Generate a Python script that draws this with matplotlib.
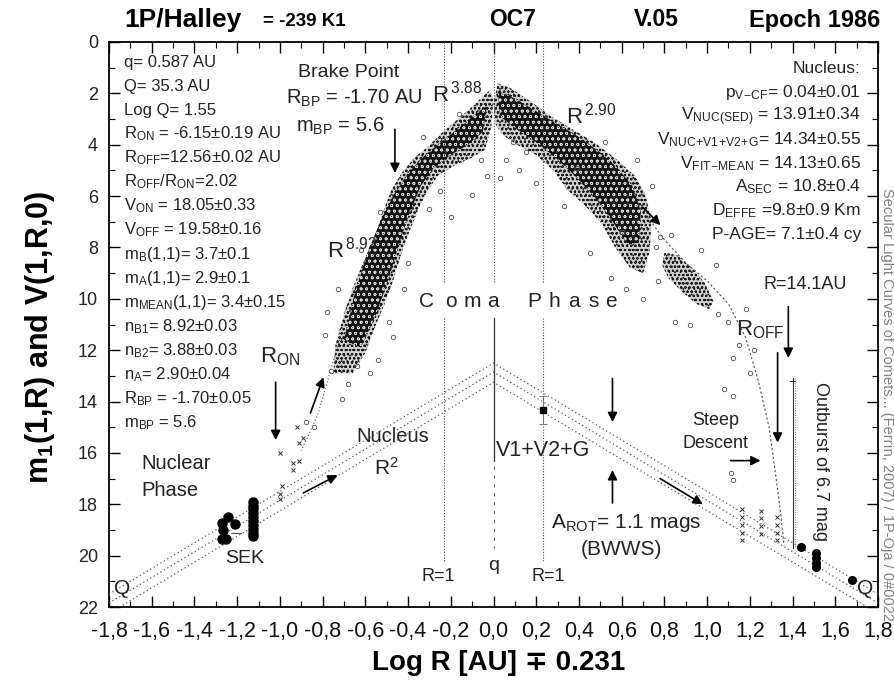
import numpy as np
import matplotlib
matplotlib.use("Agg")
import matplotlib.pyplot as plt
from matplotlib.ticker import MultipleLocator, FuncFormatter

plt.rcParams['font.family'] = ['Liberation Sans', 'DejaVu Sans']
plt.rcParams['mathtext.fontset'] = 'custom'
plt.rcParams['mathtext.rm'] = 'Liberation Sans'
plt.rcParams['mathtext.it'] = 'Liberation Sans'
plt.rcParams['mathtext.bf'] = 'Liberation Sans:bold'
plt.rcParams['axes.unicode_minus'] = False
plt.rcParams['hatch.linewidth'] = 0.5

# ---------------- data ----------------
LOG_Q = 0.231          # -log10(q), q = 0.587 AU

# characteristic heliocentric distances (AU); negative = before perihelion
r_brake = -1.70
r_on = -6.15
r_off = 12.56
r_outburst = 14.1
r_unit = [-1.0, 1.0]

# pre-perihelion coma cloud (outline and dense core)
left_env_x = [-0.75, -0.74, -0.70, -0.66, -0.61, -0.56, -0.52, -0.48, -0.43, -0.37, -0.31, -0.25,
              -0.18, -0.11, -0.06, -0.02, 0.00, -0.01, -0.04, -0.10, -0.18, -0.26, -0.31, -0.35,
              -0.39, -0.43, -0.47, -0.51, -0.55, -0.60, -0.66]
left_env_y = [12.9, 11.8, 10.6, 9.6, 8.6, 7.7, 6.7, 5.8, 5.1, 4.5, 4.1, 3.6,
              3.1, 2.6, 2.2, 1.9, 2.2, 3.3, 4.2, 4.5, 4.8, 5.2, 5.8, 6.5,
              7.3, 8.2, 9.3, 10.2, 11.0, 12.1, 12.9]
left_core_x = [-0.70, -0.65, -0.59, -0.53, -0.47, -0.40, -0.32, -0.23, -0.14, -0.07, -0.03,
               -0.05, -0.12, -0.20, -0.28, -0.34, -0.39, -0.44, -0.49, -0.55, -0.62]
left_core_y = [11.6, 9.8, 8.2, 7.0, 6.0, 5.1, 4.4, 3.8, 3.2, 2.7, 2.5,
               3.5, 4.0, 4.4, 4.9, 5.6, 6.6, 7.8, 9.2, 10.6, 11.9]

# post-perihelion coma cloud
right_env_x = [0.00, 0.02, 0.08, 0.17, 0.27, 0.37, 0.47, 0.58, 0.66, 0.71, 0.74, 0.73, 0.70,
               0.64, 0.57, 0.50, 0.42, 0.35, 0.28, 0.20, 0.11, 0.04, 0.01]
right_env_y = [2.4, 1.6, 1.8, 2.3, 2.9, 3.4, 3.9, 4.6, 5.2, 5.9, 7.0, 8.2, 9.0,
               8.8, 8.0, 7.0, 6.3, 5.8, 5.0, 4.4, 4.0, 3.6, 3.2]
right_core_x = [0.02, 0.10, 0.20, 0.30, 0.40, 0.50, 0.58, 0.65, 0.69, 0.68, 0.63, 0.55, 0.47,
                0.38, 0.29, 0.20, 0.11, 0.03]
right_core_y = [1.9, 2.2, 2.7, 3.2, 3.7, 4.3, 4.9, 5.6, 6.6, 7.8, 7.9, 6.9, 6.0,
                5.2, 4.5, 3.9, 3.4, 2.9]
far_cluster_x = [0.80, 0.86, 0.93, 0.99, 1.03, 1.01, 0.95, 0.88, 0.82, 0.79]
far_cluster_y = [8.2, 8.3, 8.8, 9.4, 10.1, 10.4, 10.2, 9.7, 9.2, 8.7]

# isolated coma observations
scatter_x = [-0.73, -0.42, -0.54, -0.10, -0.06, -0.78, -0.76, -0.68, -0.64, -0.47, -0.30, -0.25,
             -0.88, -0.84, -0.20, 0.06, 0.45, 0.12, 0.20, 0.55, 0.62, 0.70, 0.76, 0.78,
             1.05, 1.10, 1.15, 1.12, 1.20, 1.08, 1.12, 1.11, 1.12, 1.18, 1.22, 0.85, 0.92,
             -0.79, -0.71, -0.62, -0.58, -0.53, -0.49, -0.40, -0.33, -0.16, -0.03, 0.03,
             0.09, 0.15, 0.33, 0.39, 0.52, 0.60, 0.67, 0.74, 0.77, 0.83, 0.97, 1.04]
scatter_y = [9.6, 9.6, 12.4, 5.96, 4.6, 10.5, 12.8, 13.3, 12.6, 11.5, 6.5, 5.8,
             14.8, 15.0, 6.8, 4.6, 8.2, 5.0, 5.5, 9.2, 9.6, 10.0, 8.0, 7.6,
             10.6, 10.9, 11.8, 12.3, 12.9, 13.5, 13.8, 16.8, 17.05, 10.4, 12.0, 10.9, 11.0,
             11.4, 13.9, 8.1, 12.9, 6.6, 10.9, 8.6, 3.7, 2.8, 5.2, 5.3,
             3.9, 4.3, 6.4, 4.9, 3.9, 7.4, 4.6, 5.6, 9.3, 7.5, 8.1, 8.7]

# early/late faint detections (crosses)
cross_x = [-1.00, -0.94, -0.94, -0.91, -0.99, -1.00, -1.00, -0.89, -0.91, -0.92,
           1.165, 1.165, 1.165, 1.165, 1.165, 1.25, 1.25, 1.25, 1.25,
           1.325, 1.325, 1.325, 1.325]
cross_y = [16.0, 16.4, 16.67, 16.3, 17.3, 17.6, 17.8, 15.4, 15.6, 15.0,
           18.2, 18.5, 18.8, 19.1, 19.4, 18.25, 18.55, 18.85, 19.15,
           18.5, 18.8, 19.1, 19.4]

# nucleus photometry (SEK and far post-perihelion)
sek_x = [-1.27, -1.245, -1.264, -1.25, -1.27, -1.21,
         -1.128, -1.128, -1.128, -1.128, -1.128, -1.128, -1.128, -1.128, -1.128, -1.128]
sek_y = [18.73, 18.5, 19.0, 19.35, 19.35, 18.77,
         17.9, 18.05, 18.2, 18.35, 18.5, 18.65, 18.8, 18.95, 19.1, 19.25]
far_dots_x = [1.44, 1.51, 1.51, 1.51, 1.51, 1.68]
far_dots_y = [19.66, 19.9, 20.1, 20.3, 20.45, 20.95]

# nucleus magnitude at R = 1 AU with error
v_nuc = 14.34
v_nuc_err = 0.55

# nucleus lines V(1,R,0)
nuc_x = [-1.8, 0.0, 1.8]
nuc_upper_y = [21.5, 12.5, 21.5]
nuc_mid_y = [21.85, 12.85, 21.85]
nuc_lower_y = [22.25, 13.25, 22.25]

# secular fits continued outside the dense data
fit_left_x = [-0.72, -0.77, -0.82, -0.86, -0.90]
fit_left_y = [11.6, 13.0, 14.45, 15.2, 15.9]
fit_right_x = [0.72, 0.80, 0.90, 1.00, 1.10, 1.18, 1.24, 1.29, 1.32, 1.345, 1.36]
fit_right_y = [6.8, 7.7, 8.6, 9.3, 10.2, 11.5, 13.2, 15.0, 16.8, 18.4, 19.6]

# tick values
x_ticks = np.round(np.arange(-1.8, 1.81, 0.2), 1)
y_ticks = np.arange(0, 23, 2)


def xpos(r):
    return np.sign(r) * (np.log10(abs(r)) + LOG_Q)


# ---------------- figure ----------------
fig = plt.figure(figsize=(8.95, 6.8), dpi=100)
ax = fig.add_axes([109 / 895, 1 - 607 / 680, 769 / 895, 565 / 680])
ax.set_xlim(-1.8, 1.8)
ax.set_ylim(22, 0)

# coma clouds
for px, py in [(left_env_x, left_env_y), (right_env_x, right_env_y), (far_cluster_x, far_cluster_y)]:
    ax.fill(px, py, facecolor='0.82', edgecolor='0.1', hatch='oooo...', lw=0, zorder=2)
for px, py in [(left_core_x, left_core_y), (right_core_x, right_core_y)]:
    ax.fill(px, py, facecolor='0.08', edgecolor='0.85', hatch='ooo', lw=0, zorder=3)

ax.plot(scatter_x, scatter_y, 'o', ms=3.2, mfc='none', mec='0.3', mew=0.6, zorder=4)
ax.plot(cross_x, cross_y, 'x', ms=3.5, color='0.2', mew=0.7, zorder=4)
ax.plot(sek_x, sek_y, 'o', ms=6.5, color='black', zorder=5)
ax.plot([-1.23, -1.18], [19.1, 19.1], color='0.3', lw=0.8, zorder=5)
ax.plot(far_dots_x, far_dots_y, 'o', ms=5.5, color='black', zorder=5)

# nucleus lines
for ny in (nuc_upper_y, nuc_mid_y, nuc_lower_y):
    ax.plot(nuc_x, ny, color='0.35', lw=0.9, ls=(0, (1, 2.2)), zorder=3)

ax.errorbar([xpos(1.0)], [v_nuc], yerr=[v_nuc_err], fmt='s', ms=5, color='black',
            ecolor='0.4', elinewidth=0.6, capsize=3, capthick=0.6, zorder=6)

# fits
ax.plot(fit_left_x, fit_left_y, color='0.3', lw=0.8, ls=(0, (1, 2)), zorder=3)
ax.plot(fit_right_x, fit_right_y, color='0.3', lw=0.8, ls=(0, (2, 2)), zorder=3)

# vertical reference lines
for r in r_unit:
    xv = xpos(r)
    ax.plot([xv, xv], [0, 9.4], color='0.3', lw=0.8, ls=(0, (1, 1.5)), zorder=3)
    ax.plot([xv, xv], [10.75, 20.2], color='0.3', lw=0.8, ls=(0, (1, 1.5)), zorder=3)
ax.plot([0, 0], [0, 9.4], color='0.3', lw=0.8, ls=(0, (1, 1.5)), zorder=3)
ax.plot([0, 0], [10.75, 16.3], color='0.2', lw=0.9, zorder=3)
ax.plot([0, 0], [16.5, 19.7], color='0.4', lw=0.8, ls=(0, (3, 5)), zorder=3)

x_ob = xpos(r_outburst) + 0.02
ax.plot([x_ob, x_ob], [13.1, 19.7], color='0.2', lw=0.8, zorder=3)
ax.plot([x_ob + 0.012, x_ob + 0.012], [13.1, 19.7], color='0.4', lw=0.7, ls=(0, (1, 1.5)), zorder=3)
ax.plot([x_ob - 0.012, x_ob + 0.012], [13.2, 13.2], color='0.2', lw=0.8, zorder=3)

# arrows
arrow_kw = dict(arrowstyle='-|>', color='black', lw=1.2, mutation_scale=14, shrinkA=0, shrinkB=0)


def arrow(x0, y0, x1, y1):
    ax.annotate('', xy=(x1, y1), xytext=(x0, y0), arrowprops=arrow_kw, zorder=7)


xb = xpos(r_brake)
arrow(xb, 3.4, xb, 5.1)
arrow(xpos(r_on), 13.25, xpos(r_on), 15.5)
arrow(-0.857, 14.45, -0.796, 13.05)
arrow(-0.89, 17.56, -0.73, 16.86)
arrow(0.698, 6.43, 0.782, 7.13)
arrow(0.78, 17.0, 0.98, 18.0)
arrow(0.557, 13.1, 0.557, 14.8)
arrow(0.557, 17.95, 0.557, 16.67)
arrow(xpos(r_outburst), 10.3, xpos(r_outburst), 12.3)
arrow(xpos(r_off), 12.1, xpos(r_off), 15.6)
arrow(1.11, 16.3, 1.25, 16.3)

# ---------------- annotations ----------------
txt = dict(color='#222222', zorder=8)
left_rows = [
    "q= 0.587 AU",
    "Q= 35.3 AU",
    "Log Q= 1.55",
    r"R$_{\mathrm{ON}}$ = -6.15±0.19 AU",
    r"R$_{\mathrm{OFF}}$=12.56±0.02 AU",
    r"R$_{\mathrm{OFF}}$/R$_{\mathrm{ON}}$=2.02",
    r"V$_{\mathrm{ON}}$ = 18.05±0.33",
    r"V$_{\mathrm{OFF}}$ = 19.58±0.16",
    r"m$_{\mathrm{B}}$(1,1)= 3.7±0.1",
    r"m$_{\mathrm{A}}$(1,1)= 2.9±0.1",
    r"m$_{\mathrm{MEAN}}$(1,1)= 3.4±0.15",
    r"n$_{\mathrm{B1}}$= 8.92±0.03",
    r"n$_{\mathrm{B2}}$= 3.88±0.03",
    r"n$_{\mathrm{A}}$= 2.90±0.04",
    r"R$_{\mathrm{BP}}$ = -1.70±0.05",
    r"m$_{\mathrm{BP}}$ = 5.6",
]
for i, s in enumerate(left_rows):
    ax.text(-1.73, 0.78 + 0.935 * i, s, fontsize=12, ha='left', va='center', **txt)

right_rows = [
    "Nucleus:",
    r"p$_{\mathrm{V\!-\!CF}}$= 0.04±0.01",
    r"V$_{\mathrm{NUC(SED)}}$ = 13.91±0.34",
    r"V$_{\mathrm{NUC\!+\!V1\!+\!V2\!+\!G}}$= 14.34±0.55",
    r"V$_{\mathrm{FIT\!-\!MEAN}}$ = 14.13±0.65",
    r"A$_{\mathrm{SEC}}$ = 10.8±0.4",
    r"D$_{\mathrm{EFFE}}$ =9.8±0.9 Km",
    "P-AGE= 7.1±0.4 cy",
]
for i, s in enumerate(right_rows):
    ax.text(1.72, 1.05 + 0.92 * i, s, fontsize=12.5, ha='right', va='center', **txt)

ax.text(-0.68, 1.17, "Brake Point", fontsize=14, ha='center', va='center', **txt)
ax.text(-0.65, 2.2, r"R$_{\mathrm{BP}}$ = -1.70 AU", fontsize=14.5, ha='center', va='center', **txt)
ax.text(-0.72, 3.3, r"m$_{\mathrm{BP}}$ = 5.6", fontsize=14.5, ha='center', va='center', **txt)

ax.text(-0.29, 2.0, r"R$^{\,\mathrm{3.88}}$", fontsize=16, ha='left', va='center', **txt)
ax.text(0.34, 2.85, r"R$^{\,\mathrm{2.90}}$", fontsize=16, ha='left', va='center', **txt)
ax.text(-0.78, 8.1, r"R$^{\,\mathrm{8.92}}$", fontsize=16, ha='left', va='center', **txt)
ax.text(-1.0, 12.25, r"R$_{\mathrm{ON}}$", fontsize=16, ha='center', va='center', **txt)
ax.text(1.25, 11.2, r"R$_{\mathrm{OFF}}$", fontsize=16, ha='center', va='center', **txt)
ax.text(1.265, 9.45, "R=14.1AU", fontsize=13, ha='left', va='center', **txt)

coma_letters = "ComaPhase"
coma_pos = [-0.351, -0.225, -0.140, -0.028, 0.159, 0.257, 0.351, 0.445, 0.524]
for ch, xc in zip(coma_letters, coma_pos):
    ax.text(xc, 10.1, ch, fontsize=15, ha='left', va='center', **txt)

ax.text(-0.47, 15.38, "Nucleus", fontsize=14.5, ha='center', va='center', **txt)
ax.text(-0.50, 16.6, r"R$^{\mathrm{2}}$", fontsize=15, ha='center', va='center', **txt)
ax.text(-1.65, 16.4, "Nuclear", fontsize=14.5, ha='left', va='center', **txt)
ax.text(-1.65, 17.45, "Phase", fontsize=14.5, ha='left', va='center', **txt)
ax.text(-1.166, 20.1, "SEK", fontsize=14, ha='center', va='center', **txt)
ax.text(-1.737, 21.27, "Q", fontsize=15, ha='center', va='center', **txt)
ax.text(1.74, 21.27, "Q", fontsize=15, ha='center', va='center', **txt)
ax.text(-0.257, 20.8, "R=1", fontsize=13, ha='center', va='center', **txt)
ax.text(0.257, 20.8, "R=1", fontsize=13, ha='center', va='center', **txt)
ax.text(0.0, 20.4, "q", fontsize=14, ha='center', va='center', **txt)
ax.text(0.01, 15.9, "V1+V2+G", fontsize=15.5, ha='left', va='center', **txt)
ax.text(0.267, 18.73, r"A$_{\mathrm{ROT}}$= 1.1 mags", fontsize=15, ha='left', va='center', **txt)
ax.text(0.60, 19.78, "(BWWS)", fontsize=15, ha='center', va='center', **txt)
ax.text(1.04, 14.75, "Steep", fontsize=13, ha='center', va='center', **txt)
ax.text(1.04, 15.65, "Descent", fontsize=13, ha='center', va='center', **txt)
ax.text(1.53, 16.35, "Outburst of 6.7 mag", fontsize=13, rotation=-90,
        ha='center', va='center', **txt)

# ---------------- axes styling ----------------
ax.set_xticks(x_ticks)
ax.xaxis.set_minor_locator(MultipleLocator(0.1))
ax.set_yticks(y_ticks)
ax.yaxis.set_minor_locator(MultipleLocator(1))
ax.xaxis.set_major_formatter(FuncFormatter(lambda v, p: f"{v:.1f}".replace('.', ',').replace('-0,0', '0,0')))
ax.yaxis.set_major_formatter(FuncFormatter(lambda v, p: f"{v:.0f}"))
ax.tick_params(which='both', direction='in', top=True, right=True, color='black')
ax.tick_params(which='major', length=8, width=1.0)
ax.tick_params(which='minor', length=4, width=0.8)
ax.tick_params(axis='x', labelsize=15.5, pad=10, labelcolor='#111111')
ax.tick_params(axis='y', labelsize=13, pad=8, labelcolor='#222222')
for sp in ax.spines.values():
    sp.set_linewidth(1.3)

# titles and axis labels
fig.text(124 / 895, 1 - 20 / 680, "1P/Halley", fontsize=19, fontweight='bold', ha='left', va='center')
fig.text(263 / 895, 1 - 21 / 680, "= -239 K1", fontsize=13.5, fontweight='bold', ha='left', va='center')
fig.text(513 / 895, 1 - 20 / 680, "OC7", fontsize=16.5, fontweight='bold', ha='center', va='center')
fig.text(656 / 895, 1 - 20 / 680, "V.05", fontsize=16.5, fontweight='bold', ha='center', va='center')
fig.text(880 / 895, 1 - 20 / 680, "Epoch 1986", fontsize=17, fontweight='bold', ha='right', va='center')

fig.text(499 / 895, 1 - 663 / 680, "Log R [AU] ∓ 0.231", fontsize=20, fontweight='bold',
         ha='center', va='center')
fig.text(40 / 895, 1 - 337 / 680, r"m$_{\mathbf{1}}$(1,R) and V(1,R,0)", fontsize=22,
         fontweight='bold', rotation=90, ha='center', va='center')
fig.text(887 / 895, 1 - 405 / 680,
         "Secular Light Curves of Comets... (Ferrín, 2007) / 1P-Oja / 0#0022",
         fontsize=10.5, color='0.5', rotation=-90, ha='center', va='center')

fig.savefig("out.png", dpi=100)
